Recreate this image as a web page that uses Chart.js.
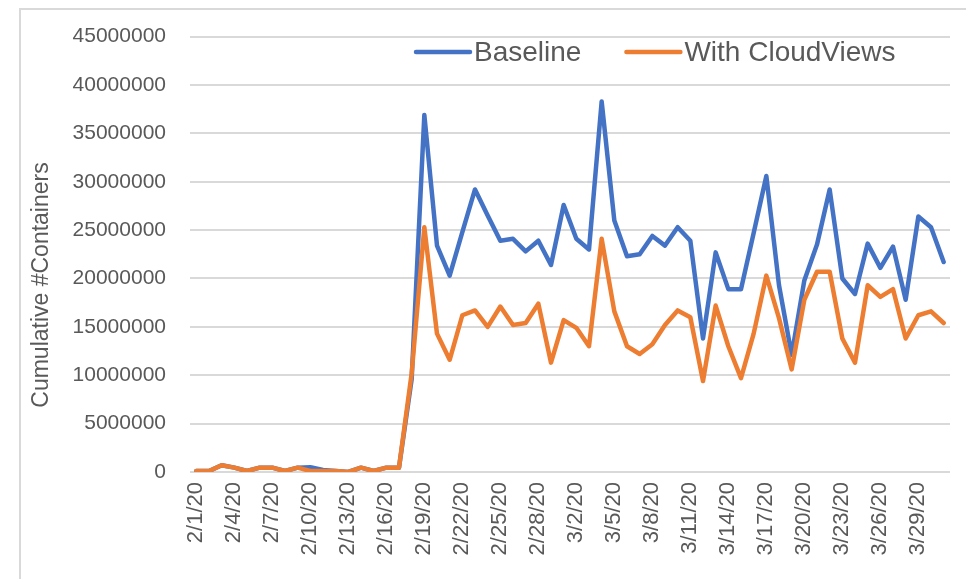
<!DOCTYPE html>
<html>
<head>
<meta charset="utf-8">
<script src="https://cdn.jsdelivr.net/npm/chart.js@4"></script>
<style>
  html, body { margin: 0; padding: 0; background: #fff; }
  .wrap { position: relative; width: 966px; height: 579px; overflow: hidden; }
  .frame { position: absolute; left: 19px; top: 8px; width: 1000px; height: 700px;
           border-left: 2px solid #d9d9d9; border-top: 2px solid #d9d9d9; }
  canvas { position: absolute; left: 0; top: 0; }
</style>
</head>
<body>
<div class="wrap">
  <div class="frame"></div>
  <canvas id="chart" width="966" height="579"></canvas>
</div>
<script>
const dates = [
  "2/1/20", "2/2/20", "2/3/20", "2/4/20", "2/5/20", "2/6/20", "2/7/20", "2/8/20", "2/9/20", "2/10/20",
  "2/11/20", "2/12/20", "2/13/20", "2/14/20", "2/15/20", "2/16/20", "2/17/20", "2/18/20", "2/19/20", "2/20/20",
  "2/21/20", "2/22/20", "2/23/20", "2/24/20", "2/25/20", "2/26/20", "2/27/20", "2/28/20", "2/29/20", "3/1/20",
  "3/2/20", "3/3/20", "3/4/20", "3/5/20", "3/6/20", "3/7/20", "3/8/20", "3/9/20", "3/10/20", "3/11/20",
  "3/12/20", "3/13/20", "3/14/20", "3/15/20", "3/16/20", "3/17/20", "3/18/20", "3/19/20", "3/20/20", "3/21/20",
  "3/22/20", "3/23/20", "3/24/20", "3/25/20", "3/26/20", "3/27/20", "3/28/20", "3/29/20", "3/30/20", "3/31/20"
];

const baseline = [
  100000, 100000, 700000, 450000, 100000, 450000, 450000, 100000, 450000, 500000,
  200000, 100000, 0, 450000, 100000, 450000, 450000, 9600000, 36900000, 23400000,
  20300000, 24800000, 29200000, 26500000, 23900000, 24100000, 22800000, 23900000, 21400000, 27600000,
  24100000, 23000000, 38300000, 26000000, 22300000, 22500000, 24400000, 23400000, 25300000, 23900000,
  13800000, 22700000, 18900000, 18900000, 24700000, 30600000, 19300000, 12100000, 19800000, 23500000,
  29200000, 20000000, 18400000, 23600000, 21100000, 23300000, 17800000, 26400000, 25300000, 21700000
];

const withCloudViews = [
  100000, 100000, 700000, 450000, 100000, 450000, 450000, 100000, 450000, 100000,
  100000, 100000, 0, 450000, 100000, 450000, 450000, 10200000, 25300000, 14300000,
  11600000, 16200000, 16700000, 15000000, 17100000, 15200000, 15400000, 17400000, 11300000, 15700000,
  14900000, 13000000, 24100000, 16600000, 13000000, 12200000, 13200000, 15200000, 16700000, 16000000,
  9400000, 17200000, 13000000, 9700000, 14300000, 20300000, 15900000, 10600000, 17800000, 20700000,
  20700000, 13800000, 11300000, 19300000, 18100000, 18900000, 13800000, 16200000, 16600000, 15400000
];

const yTicks = [0, 5000000, 10000000, 15000000, 20000000, 25000000, 30000000, 35000000, 40000000, 45000000];
const yTitle = "Cumulative #Containers";

const textColor = "#595959";
const fontFamily = "'Liberation Sans', Arial, sans-serif";

// legend drawn inside the plot, like the Excel one, plus the y title
const innerLegend = {
  id: "innerLegend",
  afterDraw(chart) {
    const ctx = chart.ctx;
    let x = 416;
    const y = 52;
    ctx.save();
    ctx.font = "28px " + fontFamily;
    ctx.textBaseline = "middle";
    chart.data.datasets.forEach((ds) => {
      ctx.strokeStyle = ds.borderColor;
      ctx.lineWidth = 4.5;
      ctx.lineCap = "round";
      ctx.beginPath();
      ctx.moveTo(x, y);
      ctx.lineTo(x + 54, y);
      ctx.stroke();
      ctx.fillStyle = textColor;
      ctx.fillText(ds.label, x + 58, y + 1);
      x += 58 + ctx.measureText(ds.label).width + 45;
    });

    // y axis title, centred on the whole picture height like Excel does
    ctx.translate(42, 285);
    ctx.rotate(-Math.PI / 2);
    ctx.font = "23px " + fontFamily;
    ctx.textAlign = "center";
    ctx.fillText(yTitle, 0, 0);
    ctx.restore();
  },
};

new Chart(document.getElementById("chart"), {
  type: "line",
  data: {
    labels: dates,
    datasets: [
      {
        label: "Baseline",
        data: baseline,
        borderColor: "#4472C4",
        backgroundColor: "#4472C4",
        borderWidth: 4.5,
        pointRadius: 0,
        tension: 0,
        borderJoinStyle: "round",
        borderCapStyle: "round",
        order: 1,
      },
      {
        label: "With CloudViews",
        data: withCloudViews,
        borderColor: "#ED7D31",
        backgroundColor: "#ED7D31",
        borderWidth: 4.5,
        pointRadius: 0,
        tension: 0,
        borderJoinStyle: "round",
        borderCapStyle: "round",
        order: 0,
      },
    ],
  },
  options: {
    responsive: false,
    animation: false,
    devicePixelRatio: 1,
    layout: { padding: { top: 32, right: 16, bottom: 0, left: 0 } },
    plugins: {
      legend: { display: false },
      tooltip: { enabled: false },
    },
    scales: {
      x: {
        offset: true,
        grid: { display: false, drawTicks: false },
        border: { display: false },
        afterFit(scale) {
          scale.height = 107;
          scale.paddingLeft = 0;
          scale.paddingRight = 0;
        },
        ticks: {
          autoSkip: false,
          minRotation: 90,
          maxRotation: 90,
          padding: 10,
          color: textColor,
          font: { family: fontFamily, size: 22 },
          callback(value, index) {
            return index % 3 === 0 ? dates[index] : "";
          },
        },
      },
      y: {
        min: 0,
        max: 45000000,
        afterBuildTicks(scale) {
          scale.ticks = yTicks.map((v) => ({ value: v }));
        },
        afterFit(scale) { scale.width = 190; },
        grid: { color: "#d9d9d9", lineWidth: 2, drawTicks: false },
        border: { display: false },
        ticks: {
          padding: 24,
          color: textColor,
          font: { family: fontFamily, size: 21 },
          callback: (v) => String(v),
        },
      },
    },
  },
  plugins: [innerLegend],
});
</script>
</body>
</html>
